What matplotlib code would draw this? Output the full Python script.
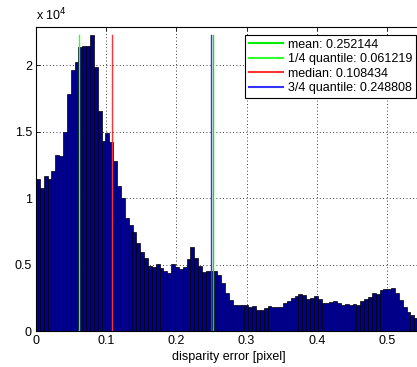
"""
Histogram of disparity errors with mean / quantile markers
"""

import numpy as np
import matplotlib
matplotlib.use("Agg")
from matplotlib import pyplot as plt
from matplotlib.ticker import FuncFormatter

# bin width of the histogram [pixel]
bin_width = 0.0055

# counts per bin (units of 1e4)
counts = [
    1.143, 1.08, 1.169, 1.146, 1.209, 1.324, 1.319, 1.498, 1.787, 1.963,
    2.025, 2.139, 2.149, 2.144, 2.231, 1.99, 1.659, 1.435, 1.488, 1.42,
    1.279, 1.093, 1.0, 0.852, 0.799, 0.744, 0.666, 0.593, 0.553, 0.488,
    0.48, 0.503, 0.475, 0.455, 0.437, 0.503, 0.482, 0.465, 0.482, 0.545,
    0.633, 0.55, 0.492, 0.447, 0.45, 0.455, 0.452, 0.42, 0.362, 0.289,
    0.234, 0.196, 0.196, 0.196, 0.196, 0.183, 0.187, 0.158, 0.158, 0.175,
    0.187, 0.183, 0.178, 0.183, 0.209, 0.226, 0.246, 0.264, 0.276, 0.269,
    0.239, 0.251, 0.264, 0.239, 0.214, 0.214, 0.219, 0.226, 0.214, 0.196,
    0.201, 0.196, 0.201, 0.196, 0.226, 0.239, 0.259, 0.289, 0.279, 0.309,
    0.319, 0.319, 0.327, 0.289, 0.234, 0.183, 0.141, 0.118, 0.10,
]

stat_names = ["mean", "1/4 quantile", "median", "3/4 quantile"]
stat_values = [0.252144, 0.061219, 0.108434, 0.248808]
stat_colors = ["#00ee00", "#33ff33", "#ff3333", "#3333ff"]

x_ticks = [0, 0.1, 0.2, 0.3, 0.4, 0.5]
y_ticks = [0, 5000, 10000, 15000, 20000]

plt.rcParams["font.family"] = ["Liberation Sans", "DejaVu Sans"]

W, H = 417, 367
fig = plt.figure(figsize=(W / 100, H / 100), dpi=100)
# axes run a bit past the right edge of the picture, like the original crop
ax = fig.add_axes([36 / W, (H - 331) / H, 386 / W, 304 / H])

counts = np.array(counts) * 1e4
lefts = np.arange(len(counts)) * bin_width
ax.bar(lefts, counts, width=bin_width, align="edge",
       facecolor="#00008c", edgecolor="black", linewidth=0.5, zorder=2)

top = counts.max()
for name, val, col in zip(stat_names, stat_values, stat_colors):
    ax.plot([val, val], [0, top], color=col, linewidth=1.0,
            label="%s: %.6f" % (name, val), zorder=3)

ax.set_xlim(0, 0.55)
ax.set_ylim(0, 2.29e4)
ax.set_xticks(x_ticks)
ax.set_yticks(y_ticks)
ax.xaxis.set_major_formatter(FuncFormatter(lambda v, p: "%g" % v))
ax.yaxis.set_major_formatter(FuncFormatter(lambda v, p: "%g" % (v / 1e4)))
ax.tick_params(direction="in", top=True, right=True, labelsize=9,
               length=3, width=0.6, pad=3)
ax.grid(True, linestyle=(0, (1, 3)), color="black", linewidth=0.6, zorder=0)
ax.set_axisbelow(True)
for s in ax.spines.values():
    s.set_linewidth(0.8)

ax.text(0, 1.012, r"x 10$^4$", transform=ax.transAxes, fontsize=9,
        ha="left", va="bottom")
ax.set_xlabel("disparity error [pixel]", fontsize=9, labelpad=3)

leg = ax.legend(loc="upper right", bbox_to_anchor=(416 / W, 1 - 35 / H),
                bbox_transform=fig.transFigure, borderaxespad=0, fontsize=9,
                fancybox=False, framealpha=1, edgecolor="black",
                handlelength=2.7, handletextpad=0.4, labelspacing=0.2,
                borderpad=0.3)
leg.get_frame().set_linewidth(0.8)
for line in leg.get_lines():
    line.set_linewidth(1.5)

fig.savefig("out.png", dpi=100)
